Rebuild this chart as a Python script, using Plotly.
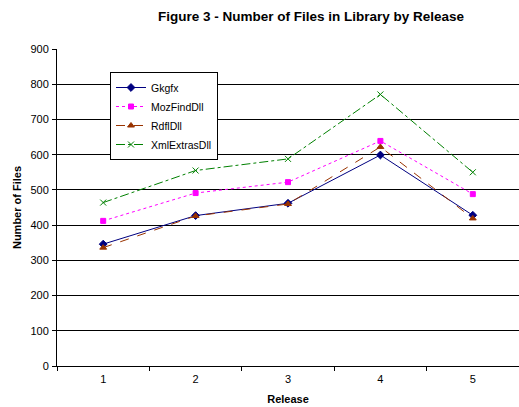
import plotly.graph_objects as go

releases = ["1", "2", "3", "4", "5"]
gkgfx = [346, 427, 462, 599, 428]
mozfind = [412, 491, 522, 639, 488]
rdfl = [336, 426, 460, 622, 419]
xmlextras = [464, 555, 588, 771, 550]

series = [
    ("Gkgfx", gkgfx, "#000080", "solid", "diamond", 6),
    ("MozFindDll", mozfind, "#FF00FF", "dot", "square", 5),
    ("RdflDll", rdfl, "#993300", "dash", "triangle-up", 6),
    ("XmlExtrasDll", xmlextras, "#008000", "dashdot", "x-thin", 6),
]

fig = go.Figure()
for name, vals, color, dash, symbol, size in series:
    fig.add_trace(go.Scatter(
        x=releases, y=vals, name=name, mode="lines+markers",
        line=dict(color=color, width=1, dash=dash),
        marker=dict(symbol=symbol, size=size, color=color,
                    line=dict(color=color, width=1)),
    ))

font = "Liberation Sans, Arial, sans-serif"
fig.update_layout(
    width=519, height=407,
    margin=dict(l=57, r=0, t=49, b=41),
    paper_bgcolor="white", plot_bgcolor="white",
    font=dict(family=font, size=11, color="black"),
    title=dict(text="<b>Figure 3 - Number of Files in Library by Release</b>",
               x=311 / 519, xanchor="center", y=1 - 16 / 407, yanchor="middle",
               font=dict(size=13.5)),
    xaxis=dict(
        type="category", range=[-0.5, 4.5], tickson="boundaries",
        ticks="outside", ticklen=4, tickcolor="black",
        showline=True, linecolor="black", linewidth=1, showgrid=False,
        tickfont=dict(size=11), ticklabelstandoff=3,
        title=dict(text="<b>Release</b>", standoff=11, font=dict(size=11)),
    ),
    yaxis=dict(
        range=[0, 900], dtick=100, ticks="outside", ticklen=4,
        tickcolor="black", showline=True, linecolor="black", linewidth=1,
        showgrid=True, gridcolor="black", gridwidth=1, zeroline=False,
        tickfont=dict(size=11), ticklabelstandoff=1,
        title=dict(text="<b>Number of Files</b>", standoff=6,
                   font=dict(size=11)),
    ),
    legend=dict(
        x=(110 - 57) / 462, y=(366 - 72) / 317, xanchor="left", yanchor="top",
        bgcolor="white", bordercolor="black", borderwidth=1,
        font=dict(size=10.5), itemwidth=30, tracegroupgap=0,
    ),
)

fig.write_html("out.html")
